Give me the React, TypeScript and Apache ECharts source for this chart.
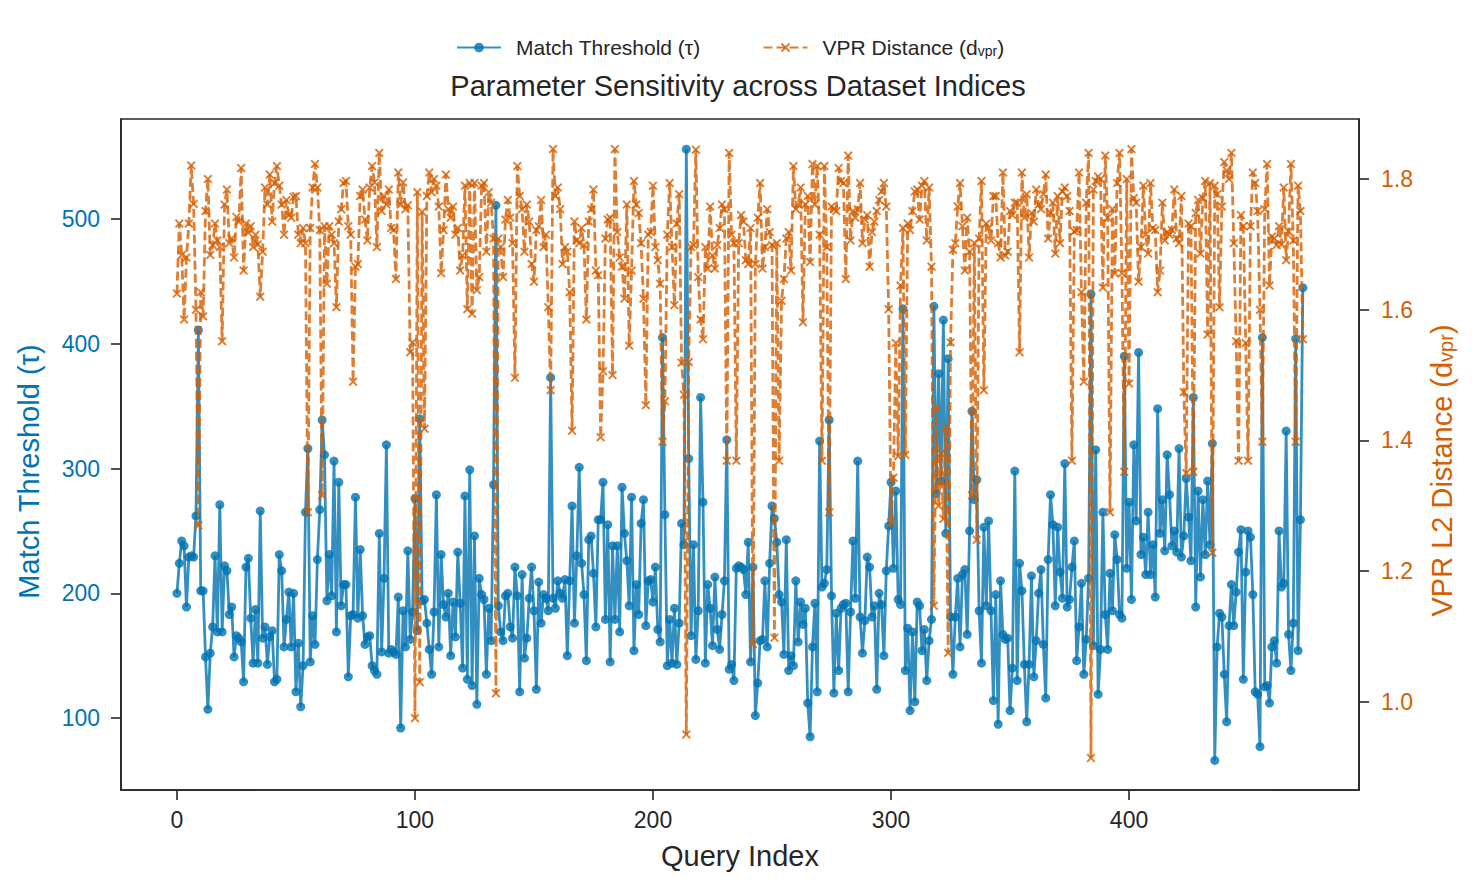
import React, { useEffect, useRef } from "react";
import * as echarts from "echarts";

const TAU: number[] = [
  200, 224, 242, 238, 189, 229, 230, 229, 262, 411,
  202, 202, 149, 107, 152, 173, 230, 169, 271, 169,
  222, 218, 183, 189, 149, 166, 164, 161, 129, 221,
  228, 180, 144, 187, 144, 266, 164, 173, 143, 165,
  170, 129, 131, 231, 218, 157, 179, 201, 157, 200,
  121, 160, 109, 142, 265, 316, 145, 182, 159, 227,
  267, 339, 311, 194, 231, 198, 306, 169, 289, 190,
  207, 207, 133, 182, 183, 277, 180, 235, 182, 159,
  165, 166, 142, 138, 135, 248, 153, 212, 319, 152,
  155, 153, 151, 197, 92, 186, 157, 234, 163, 185,
  276, 170, 340, 194, 195, 176, 155, 135, 185, 279,
  157, 231, 191, 181, 200, 150, 193, 165, 233, 192,
  140, 278, 131, 299, 126, 246, 111, 212, 199, 195,
  135, 188, 162, 287, 511, 190, 169, 162, 198, 200,
  173, 164, 221, 198, 121, 215, 148, 164, 196, 221,
  186, 123, 209, 176, 199, 196, 186, 373, 196, 188,
  210, 200, 196, 211, 150, 210, 270, 176, 230, 301,
  224, 199, 146, 243, 246, 216, 173, 259, 259, 289,
  179, 255, 145, 238, 179, 238, 169, 285, 248, 226,
  190, 277, 154, 207, 183, 256, 275, 174, 210, 211,
  193, 221, 171, 161, 405, 263, 142, 179, 144, 188,
  143, 176, 256, 239, 556, 308, 166, 239, 147, 186,
  357, 273, 144, 207, 188, 158, 213, 171, 155, 183,
  210, 323, 139, 143, 130, 220, 222, 221, 219, 199,
  241, 145, 221, 102, 128, 162, 163, 210, 157, 224,
  270, 260, 241, 199, 193, 151, 243, 138, 150, 142,
  210, 161, 193, 175, 188, 112, 85, 157, 192, 121,
  322, 205, 208, 219, 339, 198, 120, 184, 138, 188,
  191, 192, 121, 185, 242, 196, 306, 181, 152, 178,
  229, 221, 181, 190, 123, 200, 191, 150, 218, 254,
  289, 220, 282, 195, 191, 428, 138, 172, 106, 169,
  113, 193, 190, 154, 171, 130, 162, 179, 430, 280,
  376, 290, 419, 248, 388, 181, 135, 181, 212, 157,
  215, 219, 167, 250, 346, 275, 291, 186, 144, 253,
  190, 258, 186, 114, 199, 95, 210, 167, 163, 164,
  106, 140, 298, 130, 224, 202, 143, 97, 143, 214,
  133, 162, 200, 219, 159, 116, 227, 279, 255, 190,
  253, 217, 196, 304, 189, 195, 221, 242, 146, 173,
  208, 135, 163, 212, 440, 158, 315, 119, 155, 265,
  183, 155, 216, 186, 247, 227, 183, 180, 390, 220,
  273, 195, 319, 258, 393, 231, 245, 215, 265, 215,
  239, 197, 348, 248, 275, 234, 311, 279, 238, 250,
  233, 316, 229, 246, 292, 261, 226, 357, 189, 282,
  213, 275, 231, 290, 239, 320, 66, 157, 184, 181,
  135, 97, 174, 207, 174, 201, 233, 251, 131, 217,
  250, 245, 199, 121, 119, 77, 405, 125, 126, 112,
  157, 162, 144, 250, 205, 208, 330, 167, 138, 176,
  404, 154, 259, 445,
];

const DVPR: number[] = [
  1.625, 1.732, 1.684, 1.585, 1.68, 1.732, 1.821, 1.762, 1.6, 1.27,
  1.627, 1.59, 1.751, 1.8, 1.684, 1.699, 1.732, 1.706, 1.696, 1.552,
  1.761, 1.784, 1.702, 1.709, 1.68, 1.742, 1.735, 1.817, 1.66, 1.732,
  1.718, 1.728, 1.696, 1.715, 1.7, 1.62, 1.689, 1.787, 1.761, 1.807,
  1.735, 1.794, 1.82, 1.79, 1.761, 1.715, 1.768, 1.745, 1.741, 1.773,
  1.774, 1.715, 1.702, 1.725, 1.702, 1.29, 1.725, 1.787, 1.823, 1.787,
  1.722, 1.316, 1.728, 1.64, 1.728, 1.715, 1.702, 1.604, 1.735, 1.754,
  1.794, 1.797, 1.728, 1.715, 1.49, 1.666, 1.67, 1.774, 1.784, 1.738,
  1.706, 1.787, 1.82, 1.795, 1.696, 1.84, 1.751, 1.774, 1.761, 1.784,
  1.725, 1.722, 1.647, 1.81, 1.761, 1.795, 1.754, 1.76, 1.535, 1.55,
  0.975, 1.78, 1.03, 1.75, 1.418, 1.774, 1.81, 1.78, 1.8, 1.79,
  1.758, 1.656, 1.722, 1.807, 1.754, 1.741, 1.758, 1.715, 1.725, 1.66,
  1.683, 1.79, 1.601, 1.794, 1.594, 1.794, 1.63, 1.65, 1.79, 1.794,
  1.689, 1.78, 1.764, 1.709, 1.013, 1.709, 1.696, 1.65, 1.738, 1.768,
  1.741, 1.702, 1.496, 1.82, 1.774, 1.754, 1.689, 1.761, 1.735, 1.67,
  1.643, 1.722, 1.728, 1.768, 1.696, 1.715, 1.604, 1.477, 1.846, 1.774,
  1.787, 1.754, 1.67, 1.696, 1.689, 1.627, 1.415, 1.735, 1.706, 1.702,
  1.725, 1.699, 1.585, 1.735, 1.754, 1.784, 1.66, 1.653, 1.405, 1.506,
  1.709, 1.738, 1.741, 1.5, 1.846, 1.719, 1.68, 1.666, 1.617, 1.761,
  1.545, 1.66, 1.797, 1.761, 1.748, 1.702, 1.617, 1.454, 1.715, 1.719,
  1.79, 1.696, 1.676, 1.64, 1.398, 1.46, 1.715, 1.794, 1.696, 1.607,
  1.732, 1.777, 1.519, 1.47, 0.95, 1.52, 1.696, 1.699, 1.845, 1.65,
  1.585, 1.555, 1.696, 1.663, 1.758, 1.683, 1.663, 1.699, 1.725, 1.761,
  1.754, 1.369, 1.84, 1.715, 1.702, 1.369, 1.702, 1.745, 1.735, 1.676,
  1.67, 1.725, 1.088, 1.67, 1.741, 1.794, 1.663, 1.696, 1.754, 1.719,
  1.699, 1.098, 1.702, 1.369, 1.614, 1.647, 1.709, 1.719, 1.66, 1.82,
  1.754, 1.761, 1.787, 1.581, 1.761, 1.774, 1.673, 1.823, 1.761, 1.82,
  1.715, 1.369, 1.82, 1.696, 1.29, 1.758, 1.754, 1.751, 1.817, 1.797,
  1.794, 1.647, 1.836, 1.706, 1.751, 1.741, 1.754, 1.794, 1.702, 1.738,
  1.745, 1.666, 1.719, 1.735, 1.751, 1.768, 1.781, 1.794, 1.758, 1.601,
  1.274, 1.343, 1.549, 1.376, 1.637, 1.725, 1.378, 1.732, 1.722, 1.751,
  1.781, 1.784, 1.738, 1.79, 1.797, 1.706, 1.787, 1.666, 1.147, 1.45,
  1.3, 1.38, 1.28, 1.42, 1.075, 1.55, 1.692, 1.702, 1.758, 1.794,
  1.728, 1.66, 1.741, 1.689, 1.316, 1.702, 1.248, 1.709, 1.797, 1.477,
  1.732, 1.725, 1.706, 1.774, 1.774, 1.702, 1.68, 1.81, 1.683, 1.689,
  1.751, 1.745, 1.764, 1.764, 1.535, 1.81, 1.741, 1.777, 1.68, 1.748,
  1.735, 1.784, 1.761, 1.754, 1.777, 1.807, 1.709, 1.748, 1.764, 1.686,
  1.774, 1.702, 1.781, 1.787, 1.774, 1.751, 1.369, 1.72, 1.722, 1.81,
  1.627, 1.49, 1.764, 1.84, 0.914, 1.784, 1.797, 1.804, 1.8, 1.634,
  1.836, 1.741, 1.29, 1.754, 1.656, 1.794, 1.84, 1.656, 1.352, 1.8,
  1.487, 1.846, 1.771, 1.764, 1.643, 1.696, 1.79, 1.715, 1.686, 1.794,
  1.725, 1.722, 1.627, 1.66, 1.764, 1.706, 1.719, 1.715, 1.722, 1.784,
  1.709, 1.702, 1.774, 1.474, 1.35, 1.732, 1.728, 1.352, 1.748, 1.768,
  1.686, 1.771, 1.797, 1.562, 1.794, 1.228, 1.79, 1.777, 1.604, 1.758,
  1.826, 1.813, 1.8, 1.84, 1.702, 1.552, 1.369, 1.745, 1.728, 1.549,
  1.369, 1.728, 1.81, 1.794, 1.751, 1.6, 1.398, 1.754, 1.823, 1.637,
  1.712, 1.709, 1.699, 1.728, 1.7, 1.787, 1.676, 1.72, 1.823, 1.706,
  1.398, 1.79, 1.751, 1.555,
];

const X_TICKS = [0, 100, 200, 300, 400];
const TAU_TICKS = [100, 200, 300, 400, 500];
const DVPR_TICKS = [1.0, 1.2, 1.4, 1.6, 1.8];

const TAU_NAME = "Match Threshold (τ)";
const DVPR_NAME = "VPR Distance (dvpr)";

const BLUE = "#0173b2";
const ORANGE = "#d55e00";
const INK = "#262626";
const FRAME = "#262626";
const FONT = "'Liberation Sans', Arial, Helvetica, sans-serif";
const X_PATH =
  "path://M1.5,0L5,3.5L8.5,0L10,1.5L6.5,5L10,8.5L8.5,10L5,6.5L1.5,10L0,8.5L3.5,5L0,1.5Z";

export default function App() {
  const ref = useRef<HTMLDivElement>(null);

  useEffect(() => {
    document.body.style.margin = "0";
    const chart = echarts.init(ref.current!, null, { renderer: "svg" });
    const tauData = TAU.map((v, i) => [i, v]);
    const dData = DVPR.map((v, i) => [i, v]);
    const axisLine = { show: true, onZero: false, lineStyle: { color: FRAME, width: 1.6 } };
    const tick = (vals: number[]) => ({
      show: true,
      length: 10,
      lineStyle: { color: FRAME, width: 1.6 },
      customValues: vals,
    });

    chart.setOption({
      animation: false,
      textStyle: { fontFamily: FONT },
      title: {
        text: "Parameter Sensitivity across Dataset Indices",
        left: "center",
        top: 66,
        textStyle: { fontSize: 29, fontWeight: "normal", color: INK, fontFamily: FONT },
      },
      legend: {
        top: 32,
        left: 451,
        itemWidth: 44,
        itemHeight: 12,
        itemGap: 62,
        data: [TAU_NAME, DVPR_NAME],
        formatter: (n: string) => (n === DVPR_NAME ? "VPR Distance (d{sub|vpr})" : n),
        textStyle: {
          fontSize: 21,
          color: INK,
          fontFamily: FONT,
          padding: [0, 0, 0, 10],
          rich: {
            sub: { fontSize: 14, fontFamily: FONT, color: INK, verticalAlign: "bottom", lineHeight: 21, padding: [7, 0, 0, 0] },
          },
        },
      },
      grid: {
        left: 121,
        right: 117,
        top: 119,
        bottom: 99,
        show: true,
        borderColor: FRAME,
        borderWidth: 1.6,
        backgroundColor: "transparent",
        containLabel: false,
        outerBoundsMode: "none",
      },
      xAxis: {
        type: "value",
        min: -23.5,
        max: 496.6,
        axisLine,
        axisTick: tick(X_TICKS),
        axisLabel: { customValues: X_TICKS, color: INK, fontSize: 23, margin: 18, fontFamily: FONT },
        splitLine: { show: false },
        name: "Query Index",
        nameLocation: "middle",
        nameGap: 51,
        nameTextStyle: { color: INK, fontSize: 29, fontFamily: FONT },
      },
      yAxis: [
        {
          type: "value",
          position: "left",
          min: 42.3,
          max: 580.2,
          axisLine,
          axisTick: tick(TAU_TICKS),
          axisLabel: { customValues: TAU_TICKS, color: BLUE, fontSize: 23, margin: 21, fontFamily: FONT },
          splitLine: { show: false },
          name: TAU_NAME,
          nameLocation: "middle",
          nameRotate: 90,
          nameGap: 78,
          nameTextStyle: { color: BLUE, fontSize: 29, fontFamily: FONT, padding: [0, 34, 0, 0] },
        },
        {
          type: "value",
          position: "right",
          min: 0.865,
          max: 1.892,
          axisLine,
          axisTick: tick(DVPR_TICKS),
          axisLabel: {
            customValues: DVPR_TICKS,
            color: ORANGE,
            fontSize: 23,
            margin: 22,
            fontFamily: FONT,
            formatter: (v: number) => v.toFixed(1),
          },
          splitLine: { show: false },
          name: "VPR L2 Distance (d{sub|vpr})",
          nameLocation: "middle",
          nameRotate: 90,
          nameGap: 68,
          nameTextStyle: {
            color: ORANGE,
            fontSize: 29,
            fontFamily: FONT,
            padding: [0, 32, 0, 0],
            rich: {
              sub: { fontSize: 20, color: ORANGE, fontFamily: FONT, verticalAlign: "bottom", lineHeight: 29, padding: [10, 0, 0, 0] },
            },
          },
        },
      ],
      series: [
        {
          name: TAU_NAME,
          type: "line",
          yAxisIndex: 0,
          data: tauData,
          symbol: "circle",
          symbolSize: 9,
          showSymbol: true,
          showAllSymbol: true,
          silent: true,
          lineStyle: { color: BLUE, width: 2.8, opacity: 0.8 },
          itemStyle: { color: BLUE, opacity: 0.8 },
          emphasis: { disabled: true },
          z: 2,
        },
        {
          name: DVPR_NAME,
          type: "line",
          yAxisIndex: 1,
          data: dData,
          symbol: X_PATH,
          symbolSize: 9,
          showSymbol: true,
          showAllSymbol: true,
          silent: true,
          lineStyle: { color: ORANGE, width: 2.8, type: [9, 4], opacity: 0.8 },
          itemStyle: { color: ORANGE, opacity: 0.8 },
          emphasis: { disabled: true },
          z: 3,
        },
      ],
    });
    return () => chart.dispose();
  }, []);

  return <div ref={ref} style={{ width: 1476, height: 889 }} />;
}
